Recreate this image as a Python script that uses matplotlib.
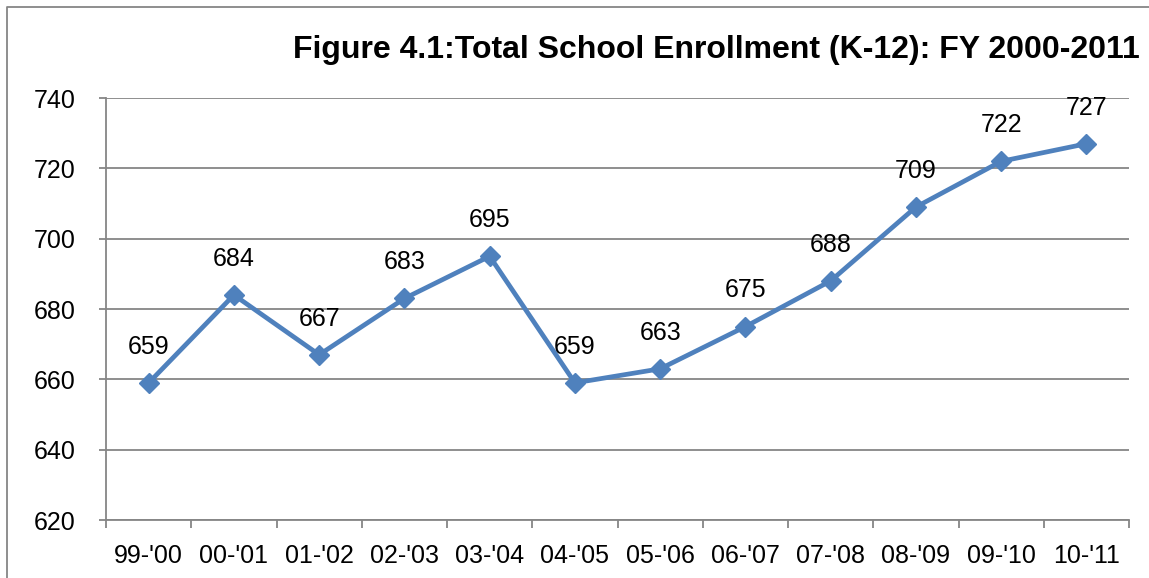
import matplotlib

matplotlib.use("Agg")
import matplotlib.pyplot as plt  # noqa: E402
from matplotlib.lines import Line2D  # noqa: E402

# school years and total enrollment (thousands)
years = ["99-'00", "00-'01", "01-'02", "02-'03", "03-'04", "04-'05",
         "05-'06", "06-'07", "07-'08", "08-'09", "09-'10", "10-'11"]
enrollment = [659, 684, 667, 683, 695, 659, 663, 675, 688, 709, 722, 727]
y_ticks = [620, 640, 660, 680, 700, 720, 740]
title = "Figure 4.1:Total School Enrollment (K-12): FY 2000-2011"

plt.rcParams["font.family"] = ["Liberation Sans", "DejaVu Sans"]
GRAY = "#868686"
BLUE = "#4F81BD"

fig = plt.figure(figsize=(11.49, 5.78), dpi=100)
ax = fig.add_axes([0.0923, 0.1003, 0.8903, 0.7301])

x = list(range(len(years)))
ax.plot(x, enrollment, color=BLUE, lw=3.4, marker="D", ms=10, zorder=3)
for xi, v in zip(x, enrollment):
    ax.annotate(str(v), (xi, v), xytext=(0, 26), textcoords="offset points",
                ha="center", va="center", fontsize=18)

ax.set_xlim(-0.5, len(years) - 0.5)
ax.set_ylim(y_ticks[0], y_ticks[-1])
ax.set_yticks(y_ticks)
ax.set_yticklabels([str(t) for t in y_ticks], fontsize=18)
ax.grid(axis="y", color=GRAY, lw=1.3)
ax.set_axisbelow(True)

# category labels centred, tick marks on the boundaries
ax.set_xticks(x)
ax.set_xticklabels(years, fontsize=18)
ax.set_xticks([i - 0.5 for i in range(len(years) + 1)], minor=True)
ax.tick_params(axis="x", which="major", length=0, pad=17)
ax.tick_params(axis="x", which="minor", length=6, width=1.3, color=GRAY)
ax.tick_params(axis="y", length=5, width=1.3, color=GRAY, pad=17)

for s in ("top", "right"):
    ax.spines[s].set_visible(False)
for s in ("left", "bottom"):
    ax.spines[s].set_color(GRAY)
    ax.spines[s].set_linewidth(1.3)

fig.text(1140 / 1149, 1 - 50 / 578, title, ha="right", va="center",
         fontsize=23, fontweight="bold")

# outer chart frame (only top and left edges visible)
fx, fy = 7 / 1149, 1 - 7 / 578
fig.add_artist(Line2D([fx, fx, 1], [0, fy, fy], color=GRAY, lw=1.3,
                      transform=fig.transFigure))

fig.savefig("out.png", dpi=100)
